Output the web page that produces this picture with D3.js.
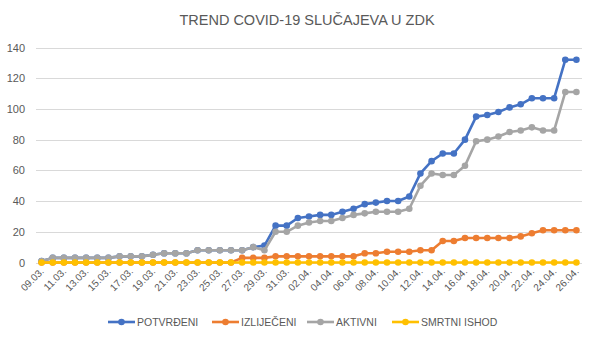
<!DOCTYPE html>
<html><head><meta charset="utf-8">
<script src="https://cdn.jsdelivr.net/npm/d3@7"></script>
<style>body{margin:0;background:#fff}svg{display:block}text{font-family:"Liberation Sans","Open Sans",sans-serif;fill:#595959}</style>
</head><body><svg id="c" width="603" height="343"></svg>
<script>
const dates = ["09.03.","10.03.","11.03.","12.03.","13.03.","14.03.","15.03.","16.03.","17.03.","18.03.","19.03.","20.03.","21.03.","22.03.","23.03.","24.03.","25.03.","26.03.","27.03.","28.03.","29.03.","30.03.","31.03.","01.04.","02.04.","03.04.","04.04.","05.04.","06.04.","07.04.","08.04.","09.04.","10.04.","11.04.","12.04.","13.04.","14.04.","15.04.","16.04.","17.04.","18.04.","19.04.","20.04.","21.04.","22.04.","23.04.","24.04.","25.04.","26.04."];
const potvrdeni = [1,3,3,3,3,3,3,4,4,4,5,6,6,6,8,8,8,8,8,10,11,24,24,29,30,31,31,33,35,38,39,40,40,43,58,66,71,71,80,95,96,98,101,103,107,107,107,132,132];
const izlijeceni = [0,0,0,0,0,0,0,0,0,0,0,0,0,0,0,0,0,0,3,3,3,4,4,4,4,4,4,4,4,6,6,7,7,7,8,8,14,14,16,16,16,16,16,17,19,21,21,21,21];
const aktivni = [1,3,3,3,3,3,3,4,4,4,5,6,6,6,8,8,8,8,8,10,8,20,20,24,26,27,27,29,31,32,33,33,33,35,50,58,57,57,63,79,80,82,85,86,88,86,86,111,111];
const smrtni = dates.map(() => 0);
const yTicks = [0,20,40,60,80,100,120,140];
const seriesNames = ["POTVRĐENI","IZLIJEČENI","AKTIVNI","SMRTNI ISHOD"];
const colors = ["#4472C4","#ED7D31","#A5A5A5","#FFC000"];
const seriesData = [potvrdeni, izlijeceni, aktivni, smrtni];

const svg = d3.select("#c");
const L = 36, R = 582, T = 47.5, B = 262.5;
const x = d3.scalePoint().domain(dates).range([L, R]).padding(0.5);
const y = d3.scaleLinear().domain([0,140]).range([B, T]);

svg.append("text").attr("x", 307).attr("y", 25).attr("text-anchor","middle")
  .style("font-size","14.5px").text("TREND COVID-19 SLUČAJEVA U ZDK");

// gridlines
svg.append("g").selectAll("line").data(yTicks).join("line")
  .attr("x1", L).attr("x2", R).attr("y1", d => Math.round(y(d))+0.5).attr("y2", d => Math.round(y(d))+0.5)
  .attr("stroke", "#d9d9d9").attr("stroke-width", 1);
svg.append("g").selectAll("text").data(yTicks).join("text")
  .attr("x", 25).attr("y", d => y(d) + 4).attr("text-anchor","end")
  .style("font-size","11px").text(d => d);

// x labels
svg.append("g").selectAll("text").data(dates.filter((d,i) => i % 2 === 0)).join("text")
  .attr("transform", d => `translate(${x(d)+3},${272}) rotate(-45)`)
  .attr("text-anchor","end").style("font-size","10px").text(d => d);

const line = d3.line().x((d,i) => x(dates[i])).y(d => y(d));
seriesData.forEach((s, k) => {
  const g = svg.append("g");
  g.append("path").datum(s).attr("d", line).attr("fill","none")
    .attr("stroke", colors[k]).attr("stroke-width", 2.6).attr("stroke-linejoin","round");
  g.selectAll("circle").data(s).join("circle")
    .attr("cx", (d,i) => x(dates[i])).attr("cy", d => y(d)).attr("r", 3.3).attr("fill", colors[k]);
});

// legend
const legX = [108, 212, 307, 392];
seriesNames.forEach((n, k) => {
  const g = svg.append("g").attr("transform", `translate(${legX[k]},322)`);
  g.append("line").attr("x1",0).attr("x2",27).attr("stroke",colors[k]).attr("stroke-width",2.6);
  g.append("circle").attr("cx",13.5).attr("r",3.3).attr("fill",colors[k]);
  g.append("text").attr("x",29).attr("y",4).style("font-size","10.5px").text(n);
});
</script></body></html>
